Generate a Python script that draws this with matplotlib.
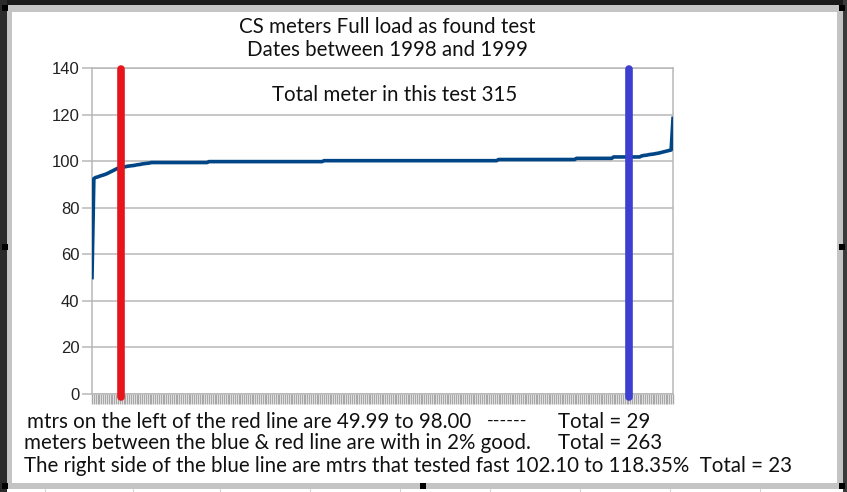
import numpy as np
import matplotlib.pyplot as plt
from matplotlib.patches import Rectangle

# sorted meter readings (% registration)
first_vals = [49.99, 92.5, 93.0, 93.2, 93.5, 93.8, 94.0, 94.3, 94.6, 95.0,
              95.4, 95.8, 96.2, 96.6, 97.0, 97.2, 97.4, 97.5, 97.6, 97.8,
              97.9, 98.0, 98.1, 98.2, 98.4, 98.5, 98.6, 98.8, 98.9, 99.0,
              99.1, 99.2]
# flat middle part: level and how many meters sit on it
flat_levels = [99.4, 99.8, 100.2, 100.7, 101.2, 101.8]
flat_counts = [31, 62, 94, 42, 20, 15]
last_vals = [102.2, 102.4, 102.5, 102.6, 102.8, 102.9, 103.0, 103.1,
             103.3, 103.4, 103.6, 103.8, 104.0, 104.2, 104.4, 104.6,
             104.8, 118.35]

values = np.concatenate([first_vals, np.repeat(flat_levels, flat_counts), last_vals])
idx = np.arange(len(values))

y_ticks = [0, 20, 40, 60, 80, 100, 120, 140]

title_lines = ["CS meters Full load as found test", "Dates between 1998 and 1999"]
total_text = "Total meter in this test 315"
note_lines = [
    "mtrs on the left of the red line are 49.99 to 98.00",
    "meters between the blue & red line are with in 2% good.",
    "The right side of the blue line are mtrs that tested fast 102.10 to 118.35%  Total = 23",
]
note_totals = ["Total = 29", "Total = 263", None]

red_x = 15.7
blue_x = 289.5

W, H = 847, 492
fig = plt.figure(figsize=(W / 100, H / 100), dpi=100)
fig.patch.set_facecolor('white')

txt_font = ['Lato', 'DejaVu Sans']
num_font = ['Liberation Sans', 'DejaVu Sans']
fs = 14.8

ax = fig.add_axes([92 / W, 1 - 394 / H, (673 - 92) / W, (394 - 68) / H])
ax.plot(idx, values, color='#004586', lw=2.6, solid_joinstyle='round', zorder=3)

ax.plot([red_x, red_x], [-1.2, 139.6], color='#e8141c', lw=5.5,
        solid_capstyle='round', clip_on=False, zorder=4)
ax.plot([blue_x, blue_x], [-1.2, 139.6], color='#3c3fcf', lw=5.5,
        solid_capstyle='round', clip_on=False, zorder=4)

ax.set_xlim(0, len(values) - 1)
ax.set_ylim(0, 140)
ax.set_yticks(y_ticks)
ax.set_yticklabels([str(t) for t in y_ticks], fontfamily=num_font, fontsize=12,
                   color='#222222')
ax.grid(axis='y', color='#b8b8b8', lw=1.1)
ax.tick_params(axis='y', length=7, color='#b8b8b8', width=1.1, pad=2)
ax.set_xticks(idx)
ax.set_xticklabels([])
ax.tick_params(axis='x', length=7, color='#a8a8a8', width=1.0, direction='out')
for s in ax.spines.values():
    s.set_color('#b8b8b8')
    s.set_linewidth(1.1)

# titles and notes
fig.text(387 / W, 1 - 27 / H, title_lines[0], ha='center', va='center',
         fontsize=fs, fontfamily=txt_font, color='#111111')
fig.text(387 / W, 1 - 50 / H, title_lines[1], ha='center', va='center',
         fontsize=fs, fontfamily=txt_font, color='#111111')
fig.text(272 / W, 1 - 95 / H, total_text, ha='left', va='center',
         fontsize=fs, fontfamily=txt_font, color='#111111')

note_y = [422, 443, 466]
note_x = [27, 24, 24]
for line, tot, yy, xx in zip(note_lines, note_totals, note_y, note_x):
    fig.text(xx / W, 1 - yy / H, line, ha='left', va='center', fontsize=fs,
             fontfamily=txt_font, color='#111111')
    if tot:
        fig.text(558 / W, 1 - yy / H, tot, ha='left', va='center', fontsize=fs,
                 fontfamily=txt_font, color='#111111')
fig.text(487 / W, 1 - 421 / H, '------', ha='left', va='center', fontsize=13,
         fontfamily=txt_font, color='#111111')

# spreadsheet window frame around the chart
def px_rect(x0, y0, x1, y1, **kw):
    fig.patches.append(Rectangle((x0 / W, 1 - y1 / H), (x1 - x0) / W, (y1 - y0) / H,
                                 transform=fig.transFigure, **kw))

px_rect(0, 0, W, 5, color='#1a1a1a', lw=0)
px_rect(0, 0, 7, H, color='#2a2a2a', lw=0)
px_rect(843, 0, W, H, color='#3a3a3a', lw=0)
px_rect(7, 5, 843, 12, color='#c4c4c4', lw=0)
px_rect(7, 5, 12, 488, color='#c4c4c4', lw=0)
px_rect(837, 5, 843, 488, color='#c4c4c4', lw=0)
px_rect(7, 483, 843, 489, color='#c4c4c4', lw=0)
for cx in [45, 133, 220, 310, 400, 490, 580, 670, 760]:
    px_rect(cx, 489, cx + 1, H, color='#d0d0d0', lw=0)
for hx, hy in [(5, 8), (842, 8), (5, 247), (842, 247), (5, 486), (423, 486), (842, 486)]:
    px_rect(hx - 3, hy - 3, hx + 3, hy + 3, color='black', lw=0)

fig.savefig('out.png', dpi=100)
